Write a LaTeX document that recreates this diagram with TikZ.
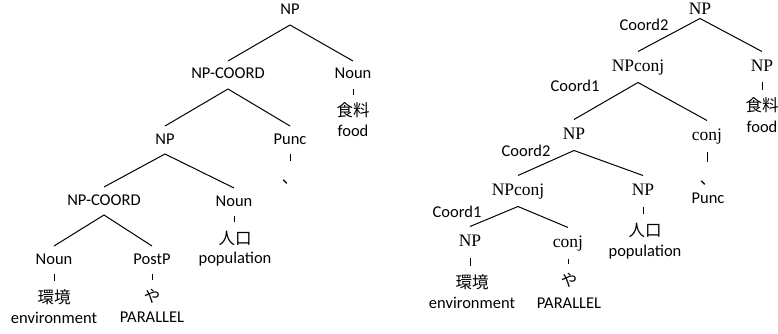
\documentclass[tikz,border=0pt]{standalone}
\usepackage{fontspec}
\setmainfont{Carlito}
\newfontfamily\catserif{Liberation Serif}
\newfontfamily\cjk{Noto Sans CJK JP}
\begin{document}
\begin{tikzpicture}[x=1pt,y=-1pt,
  every node/.style={inner sep=0pt},
  cat/.style={font=\fontsize{16.5}{18}\selectfont, text height=11pt, text depth=3pt, outer ysep=7pt},
  scat/.style={font=\catserif\fontsize{17.5}{19}\selectfont, text height=12pt, text depth=3pt, outer ysep=8pt},
  word/.style={font=\cjk\fontsize{16.5}{18}\selectfont, text height=12pt, text depth=0pt, outer ysep=10pt},
  gloss/.style={font=\fontsize{16.5}{18}\selectfont},
  coordlab/.style={font=\fontsize{16.5}{18}\selectfont},
  branch/.style={line width=1pt},
  tick/.style={line width=1pt}]
\useasboundingbox (0,0) rectangle (778,334);

% ---------- left tree ----------
\node[cat] (l0) at (290,11) {NP};
\node[cat] (l1) at (228,75) {NP-COORD};
\node[cat] (l2) at (353,75) {Noun};
\node[word] (l2w) at (353,111) {食料};
\node[gloss] (l2g) at (353,131) {food};
\node[cat] (l3) at (165,140) {NP};
\node[cat] (l4) at (290,140) {Punc};
\node[word] (l4w) at (290,177) {、};
\node[cat] (l5) at (104,201) {NP-COORD};
\node[cat] (l6) at (234,202) {Noun};
\node[word] (l6w) at (235,238) {人口};
\node[gloss] (l6g) at (235,259) {population};
\node[cat] (l7) at (54,260) {Noun};
\node[cat] (l8) at (152,260) {PostP};
\node[word] (l7w) at (54,297) {環境};
\node[gloss] (l7g) at (54,318) {environment};
\node[word] (l8w) at (152,296) {や};
\node[gloss] (l8g) at (152,317) {PARALLEL};

\draw[branch] (l0.south) -- (l1.north);
\draw[branch] (l0.south) -- (l2.north);
\draw[branch] (l1.south) -- (l3.north);
\draw[branch] (l1.south) -- (l4.north);
\draw[branch] (l3.south) -- (l5.north);
\draw[branch] (l3.south) -- (l6.north);
\draw[branch] (l5.south) -- (l7.north);
\draw[branch] (l5.south) -- (l8.north);
\draw[tick] (l2.south) -- (l2.south |- l2w.north);
\draw[tick] (l4.south) -- (l4.south |- l4w.north);
\draw[tick] (l6.south) -- (l6.south |- l6w.north);
\draw[tick] (l7.south) -- (l7.south |- l7w.north);
\draw[tick] (l8.south) -- (l8.south |- l8w.north);

% ---------- right tree ----------
\node[scat, outer ysep=1pt] (r0) at (700,10) {NP};
\node[scat] (r1) at (638,67) {NPconj};
\node[scat] (r2) at (762,67) {NP};
\node[word] (r2w) at (762,106) {食料};
\node[gloss] (r2g) at (762,127) {food};
\node[scat] (r3) at (574,135) {NP};
\node[scat] (r4) at (707,136) {conj};
\node[word] (r4w) at (708,178) {、};
\node[gloss] (r4p) at (708,198) {Punc};
\node[scat] (r5) at (518,191) {NPconj};
\node[scat] (r6) at (643,191) {NP};
\node[word] (r6w) at (645,230) {人口};
\node[gloss] (r6g) at (645,252) {population};
\node[scat] (r7) at (470,242) {NP};
\node[scat] (r8) at (568,243) {conj};
\node[word] (r7w) at (472,282) {環境};
\node[gloss] (r7g) at (472,303) {environment};
\node[word] (r8w) at (569,280) {や};
\node[gloss] (r8g) at (569,303) {PARALLEL};

\node[coordlab] (c0) at (644,25) {Coord2};
\node[coordlab] (c1) at (575,86) {Coord1};
\node[coordlab] (c3) at (526,151) {Coord2};
\node[coordlab] (c5) at (457,212) {Coord1};

\draw[branch] (r0.south) -- (r1.north);
\draw[branch] (r0.south) -- (r2.north);
\draw[branch] (r1.south) -- (r3.north);
\draw[branch] (r1.south) -- (r4.north);
\draw[branch] (r3.south) -- (r5.north);
\draw[branch] (r3.south) -- (r6.north);
\draw[branch] (r5.south) -- (r7.north);
\draw[branch] (r5.south) -- (r8.north);
\draw[tick] (r2.south) -- (r2.south |- r2w.north);
\draw[tick] (r4.south) -- (r4.south |- r4w.north);
\draw[tick] (r6.south) -- (r6.south |- r6w.north);
\draw[tick] (r7.south) -- (r7.south |- r7w.north);
\draw[tick] (r8.south) -- (r8.south |- r8w.north);
\end{tikzpicture}
\end{document}
